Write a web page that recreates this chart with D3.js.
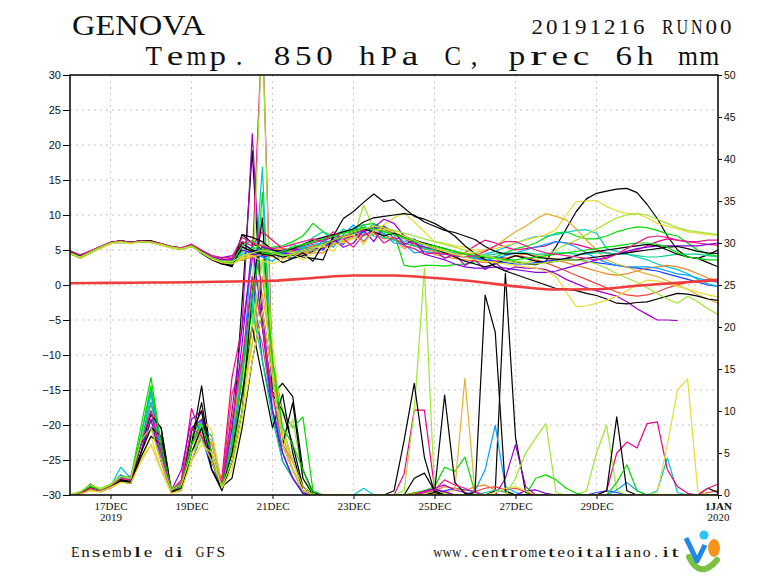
<!DOCTYPE html>
<html><head><meta charset="utf-8">
<script src="https://cdn.jsdelivr.net/npm/d3@7"></script>
<style>body{margin:0;background:#fff}svg{display:block}</style>
</head><body>
<svg id="c" width="768" height="576"></svg>
<script>
// ---------- DATA ----------
const stepHours = d3.range(0, 385, 6); // 16 Dec 2019 00Z .. 1 Jan 2020 00Z, 6-hourly
const dateTickHours = [24, 72, 120, 168, 216, 264, 312, 384];
const dateTickLabels = ["17DEC", "19DEC", "21DEC", "23DEC", "25DEC", "27DEC", "29DEC", "1JAN"];
const yearLabels = ["2019", "", "", "", "", "", "", "2020"];
const tempTicks = [-30, -25, -20, -15, -10, -5, 0, 5, 10, 15, 20, 25, 30];
const precTicks = [0, 5, 10, 15, 20, 25, 30, 35, 40, 45, 50];

const memberColors = ["#000000","#fa3c3c","#00dc00","#1e3cff","#00c8c8","#f00082","#e6dc32",
  "#f08228","#a000c8","#a0e632","#00a0ff","#e6af2d","#00d28c","#8200dc","#000000","#000000",
  "#000000","#00dc00","#e61e8c","#e6dc32","#a0e632"];

// T850 (C) per member
const tempMembers = [
[4.6,4.1,4.8,5.5,6.1,6.3,6.1,6.3,6.2,5.8,5.5,5.2,5.7,4.6,3.7,3.1,2.9, 7.2,6.0,5.0,4.4,4.0,3.8,4.2,4.8, 5.4,6.0,6.8,7.4,7.8,8.2,7.8,7.2,6.8,6.4,6.0, 5.6,5.2,4.8,4.4,4.1,3.9,4.0,3.8,3.3, 3.0,2.9,3.4,5.5,8.0,10.5,12.3,13.1,13.4,13.7,13.8,13.2,11.5,9.5,7.0,5.0,4.0,3.8,4.3,5.0],
[4.7,4.0,4.6,5.3,6.0,6.2,6.0,6.2,6.1,5.8,5.4,5.1,5.5,4.8,3.9,3.4,3.3, 4.0,4.5,5.0,5.2,4.6,4.8,5.2,5.6, 6.0,6.4,6.8,7.0,7.2,7.6,7.2,6.5,6.0,5.6,5.2, 5.0,4.8,4.6,4.4,4.0,3.6,3.4,3.8,4.2, 4.0,3.6,3.2,2.6,2.0,1.4,0.8,0.2,-0.4,-1.0,-1.4,-1.6,-1.4,-1.0,-0.4,0.0,0.4,0.6,0.8,0.8],
[4.6,4.0,4.7,5.4,6.0,6.2,6.0,6.3,6.2,5.7,5.4,5.2,5.6,4.7,3.8,3.5,3.6, 3.5,4.2,5.0,5.4,5.6,6.2,7.0,8.8, 7.6,7.0,7.6,8.0,8.6,8.8,8.0,7.4,2.8,2.6,2.8, 2.8,2.7,2.9,3.0,3.3,3.6,4.0,4.6,5.2, 5.5,6.0,6.8,7.4,7.6,7.0,6.6,6.6,7.0,7.6,8.0,8.3,8.2,7.8,7.3,7.0,6.0,5.0,4.4,4.1],
[4.8,4.1,4.7,5.4,6.0,6.1,6.0,6.2,6.2,5.8,5.4,5.3,5.6,4.6,3.8,3.2,3.0, 5.0,4.5,4.0,4.2,4.8,5.0,4.6,5.0, 5.0,6.6,5.8,7.6,6.2,7.8,8.4,6.6,6.8,5.6,5.4, 5.0,4.6,4.2,4.0,3.8,3.6,3.4,3.2,3.0, 3.0,3.2,3.4,3.6,3.8,3.6,3.4,3.2,3.0,2.8,2.6,2.4,2.2,2.0,1.6,1.2,0.8,0.4,0.0,-0.2],
[4.7,4.0,4.7,5.3,5.9,6.2,6.0,6.3,6.2,5.8,5.4,5.2,5.6,4.8,3.9,3.4,3.3, 6.0,5.0,4.6,4.4,4.6,5.0,5.4,5.8, 6.0,7.2,6.4,8.2,7.4,8.8,7.0,7.6,6.2,6.6,5.4, 5.2,4.8,4.6,4.4,4.2,4.4,4.8,5.4,6.0, 6.5,6.9,7.0,7.2,7.5,7.8,7.9,7.4,5.2,4.8,4.4,4.0,3.6,3.0,2.6,2.2,1.6,0.8,0.2,-0.2],
[4.9,4.2,4.8,5.4,6.0,6.3,6.0,6.2,6.1,5.8,5.4,5.3,5.7,4.8,4.0,3.6,3.8, 6.2,5.6,7.6,6.4,5.2,5.0,5.6,6.0, 6.4,6.8,7.0,7.4,7.8,8.4,8.0,7.2,6.6,5.8,5.2, 4.8,4.4,4.2,4.6,5.6,6.4,6.0,5.4,5.0, 5.2,5.4,5.6,6.2,6.0,5.8,5.4,5.0,4.6,4.4,4.6,5.0,5.6,6.2,6.6,6.4,6.2,6.0,5.8,5.7],
[4.5,3.8,4.6,5.3,5.9,6.1,5.9,6.2,6.1,5.7,5.3,5.1,5.5,4.6,3.8,3.4,3.5, 4.0,4.6,4.8,4.4,4.2,4.6,5.0,5.4, 5.8,6.2,6.0,6.6,7.0,7.2,8.6,9.6,10.3,9.0,7.6, 6.2,6.0,5.6,5.4,5.0,5.0,5.2,5.6,6.0, 6.4,6.8,7.2,7.9,10.0,11.9,12.0,12.1,11.2,10.6,10.2,10.2,9.6,8.8,8.4,8.0,7.6,7.4,7.2,7.1],
[4.6,4.0,4.6,5.4,6.0,6.2,6.0,6.3,6.3,5.9,5.5,5.3,5.6,4.7,3.7,3.2,3.0, 3.8,4.2,4.8,5.0,5.2,4.8,4.4,4.6, 4.6,5.8,6.4,7.8,6.2,7.4,6.6,6.8,5.2,5.8,4.8, 4.4,4.0,3.8,3.6,3.4,3.2,3.4,3.8,4.2, 4.4,4.2,4.0,3.6,3.2,2.8,2.4,2.0,1.6,1.4,1.6,2.0,2.4,2.6,2.8,2.6,2.2,1.6,1.0,0.6],
[4.8,4.1,4.7,5.4,6.0,6.3,6.1,6.3,6.2,5.8,5.4,5.2,5.6,4.9,4.2,3.9,4.2, 5.6,4.4,4.2,4.6,5.0,5.2,5.0,5.4, 5.8,6.2,6.6,7.0,7.6,8.2,9.4,8.8,7.0,6.0,5.4, 5.0,3.8,4.4,2.8,3.6,2.2,3.2,2.0,2.6, 2.4,2.4,2.2,1.6,0.8,0.2,-0.4,-0.8,-1.2,-1.6,-2.4,-3.4,-4.2,-5.0,-5.0,-5.1,null,null,null,null],
[4.6,4.0,4.7,5.3,5.9,6.2,6.0,6.2,6.2,5.8,5.4,5.2,5.6,4.7,3.8,3.3,3.4, 4.6,5.2,5.8,4.8,4.4,4.6,5.0,5.4, 5.8,6.0,6.4,6.8,11.4,8.0,7.8,7.2,6.6,6.2,5.8, 5.4,5.0,4.8,4.6,4.4,4.0,3.8,3.6,3.4, 3.2,3.6,4.2,5.0,5.8,6.4,7.2,8.0,8.8,9.6,10.0,10.2,10.0,9.4,8.8,8.2,7.8,7.6,7.4,7.2],
[4.7,4.1,4.8,5.4,6.0,6.2,6.0,6.3,6.2,5.8,5.5,5.2,5.6,4.6,3.7,3.2,3.1, 4.4,5.0,4.0,3.4,4.6,3.8,5.6,4.6, 6.6,5.4,7.2,8.6,7.0,8.0,7.4,6.0,5.8,4.6,4.8, 4.6,4.4,4.2,4.0,3.8,3.6,3.8,4.2,4.6, 5.0,5.4,5.8,6.2,6.0,5.4,4.6,3.8,3.2,2.8,2.6,2.6,2.6,2.4,2.0,1.6,1.4,1.0,0.6,0.4],
[4.6,3.9,4.6,5.3,5.9,6.2,6.0,6.2,6.1,5.7,5.3,5.1,5.5,4.7,3.8,3.3,3.2, 3.6,4.0,4.4,4.0,3.8,4.2,4.6,5.0, 5.4,5.8,6.2,6.8,7.2,7.4,7.0,6.6,6.0,5.6,5.2, 4.8,4.6,4.4,4.4,4.6,5.0,5.5,6.6,7.6, 8.4,9.4,10.2,9.8,9.3,8.0,6.4,5.0,3.6,3.0,2.6,2.0,1.6,1.2,0.6,0.0,-0.6,-1.4,-2.0,-2.6],
[4.7,4.0,4.7,5.4,6.0,6.2,6.0,6.3,6.2,5.8,5.4,5.2,5.6,4.7,3.9,3.4,3.2, 4.8,5.4,4.6,5.0,4.2,5.8,5.2,6.8, 7.6,6.4,8.0,7.2,8.6,7.0,6.8,6.4,6.0,5.6,5.2, 5.0,4.6,4.2,4.0,4.0,4.2,4.4,4.6,4.6, 4.6,4.4,4.4,4.6,4.6,4.4,4.4,4.6,4.6,4.4,4.4,4.2,4.0,4.0,4.2,4.4,4.4,4.4,4.2,4.0],
[4.8,4.2,4.8,5.4,6.0,6.2,6.0,6.2,6.1,5.8,5.4,5.2,5.7,4.8,4.0,3.6,3.6, 5.0,4.6,5.4,5.0,4.6,4.4,4.8,5.2, 5.2,6.6,5.4,6.0,7.8,6.2,8.4,7.6,5.8,6.4,4.4, 4.0,3.6,3.0,2.6,2.4,2.4,2.6,2.4,2.2, 2.0,1.8,1.8,2.0,2.4,2.8,3.2,3.6,4.0,4.4,4.8,5.2,5.4,5.6,5.6,5.6,5.6,5.6,5.8,6.0],
[4.6,4.0,4.6,5.3,6.0,6.2,6.0,6.3,6.2,5.8,5.4,5.2,5.8,4.5,3.6,3.0,2.8, 6.0,5.0,4.6,4.5,4.0,4.3,4.0,3.8, 3.6,7.0,9.5,10.5,11.8,13.0,11.9,12.2,11.0,9.8,9.4, 8.8,8.0,7.0,5.6,4.5,3.6,2.6,2.0,1.5, 1.0,0.5,0.0,-0.5,-0.6,-0.8,-1.2,-1.5,-2.0,-2.6,-2.7,-2.5,-2.4,-2.0,-1.6,-1.2,-1.3,-1.6,-2.0,-2.2],
[4.7,4.1,4.7,5.4,6.1,6.3,6.1,6.3,6.3,5.9,5.5,5.3,5.7,4.7,3.8,3.1,2.6, 7.2,6.8,6.2,5.0,4.8,5.2,5.8,6.4, 6.8,7.2,7.6,8.0,9.0,9.6,9.8,10.0,10.2,10.0,9.0, 8.4,7.8,7.5,7.0,6.5,5.5,4.8,4.4,4.5, 4.5,4.0,3.8,3.7,3.6,3.6,3.8,4.0,4.2,4.4,4.6,4.8,5.0,5.2,5.4,5.5,5.2,4.8,4.6,4.5],
[4.5,3.9,4.6,5.4,6.0,6.3,6.1,6.3,6.2,5.8,5.4,5.1,5.6,4.6,3.6,3.0,2.7, 5.4,4.8,4.4,4.2,3.2,3.8,4.6,3.4, 5.8,6.4,7.0,7.6,8.0,7.6,7.0,7.4,7.0,6.4,5.8, 5.2,4.6,4.0,3.4,3.0,2.6,3.0,3.6,4.2, 3.8,3.4,3.2,3.4,3.8,4.2,4.6,4.8,5.0,5.2,5.4,5.6,5.8,5.6,5.0,4.4,4.0,3.8,3.2,2.6],
[4.6,4.0,4.6,5.3,6.0,6.2,6.0,6.2,6.2,5.8,5.4,5.2,5.5,4.6,3.8,3.3,3.2, 5.6,6.4,4.6,4.4,4.8,5.4,5.8,6.2, 6.6,7.0,7.4,7.8,8.2,8.0,7.6,7.2,6.8,6.2,5.8, 5.6,5.2,4.8,4.4,4.2,4.0,3.8,3.6,3.6, 3.8,4.0,4.2,4.4,4.6,4.8,5.0,5.2,5.4,5.6,5.8,6.0,6.0,5.8,5.4,4.6,4.0,3.8,3.6,3.6],
[4.9,4.3,4.9,5.5,6.1,6.3,6.1,6.3,6.2,5.9,5.5,5.3,5.8,5.0,4.2,3.8,4.0, 6.8,6.0,5.6,5.2,5.4,5.8,6.2,6.6, 6.2,7.6,6.6,5.4,7.2,7.6,6.0,6.8,5.6,5.2,4.4, 4.6,4.4,4.2,4.0,4.2,4.8,5.6,6.2,6.2, 5.6,5.0,4.6,4.4,4.2,4.0,3.8,3.6,3.8,4.4,5.2,6.0,6.8,7.0,6.8,6.4,6.2,6.2,6.4,6.4],
[4.5,3.9,4.6,5.2,5.9,6.1,5.9,6.2,6.1,5.7,5.3,5.1,5.5,4.6,3.7,3.2,3.0, 3.8,4.2,3.4,3.0,3.6,4.4,3.6,4.6, 5.6,4.8,6.8,7.2,5.8,7.8,8.0,7.6,7.0,6.4,5.8, 5.2,4.8,4.4,4.0,3.6,3.4,3.2,3.0,2.8, 2.6,2.4,2.0,1.2,-1.0,-3.1,-3.0,-2.6,-2.2,-1.6,-0.8,0.0,0.7,0.6,0.2,-0.2,-0.6,-1.0,-1.4,-1.7],
[4.6,4.0,4.7,5.4,6.0,6.2,6.0,6.2,6.1,5.8,5.4,5.2,5.6,4.7,3.9,3.4,3.3, 4.2,4.6,5.0,4.6,4.2,4.4,4.8,5.2, 5.8,6.4,7.0,7.6,8.0,8.4,8.2,7.8,7.4,7.0,6.6, 6.2,5.8,5.4,5.0,4.6,4.2,3.8,3.4,3.2, 3.0,3.0,3.2,3.4,3.6,3.6,3.4,3.0,2.4,1.6,1.0,0.4,-0.4,-1.2,-2.0,-2.6,-1.6,-2.4,-3.4,-4.2]
];

// 6h precipitation (mm) per member
const precMembers = [
[0,0.2,1.3,0.5,1.0,1.8,1.5,5,9,8,0.5,1,6,13,4,1, 6,23,41,20,12,13.3,11.7,3, 0.3,0,0,0,0,0,0,0, 0,0,0.2,0.3,0.2,0,0,0,0,0,0.5, 26.4,6.9,0.3,0,0,0,0,0,0,0,0, 0,0,0,0,0,0,0,0,0,0,0],
[0,0.2,0.8,0.6,1.2,2.0,1.6,6,8,5,0.4,0.8,5,8,3,1.5, 12,16,22,18,10,6,4,1, 0,0,0,0,0,0,0,0, 0,0,0,0.4,0.6,0.3,0,0,0.4,0.8,1.0, 0.6,0.8,0.4,0,0,0,0,0,0,0,0, 0,0,0,0,0,0,0,0,0,0.3,0.5],
[0,0.3,1.0,0.6,1.0,2.2,2.0,8.1,14,6,0.8,1.2,7,9,5,0.8, 4,12,20,36,16,10,8,9.3, 0.5,0,0,0,0,0,0,0, 0,0,0.3,0.5,1.0,3.3,2.8,4.5,0.3,0,0, 0,0,0,0,0,0,0,0,0,0,0, 0,0,0,0,0,0,0,0,0,0,0],
[0,0.1,0.6,0.4,0.8,1.6,1.4,5,10,4,0.3,1,4,7,3,1, 5,14,26,16,10,6,3,0.5, 0,0,0,0,0,0,0,0, 0,0,0,0,0.2,0.5,0.8,0.6,0.4,0,0, 0,0,0,0,0,0,0,0,0,0.3,0.5, 0.3,0,0,0,0,0,0,0,0,0,0],
[0,0.2,0.8,0.6,1.0,3.3,2.0,6,12,5,0.6,1.5,6,8,7,1.2, 7,16,22,39,12,5,2,0.2, 0,0,0,0,0,0.8,0,0, 0,0,0,0.3,0.5,0.3,0,0,0,0,0, 0,0,0,0,0,0,0,0,0,0,0, 0,0,0,0,0.5,4.4,0.3,0,0,0,0],
[0,0.3,0.8,0.5,1.2,2.0,2.2,6,11,6,0.5,1.8,10.3,7,4,2, 14,20,28,56,14,8,4,1, 0,0,0,0,0,0,0,0, 0,2.5,10.1,10.1,0.8,0.3,0,0,0,0,0, 0,0,0,0,0,0,0,0,0,0,0.5, 5.0,6.3,5.6,8.5,8.7,3.0,1.0,0.2,0,0,0],
[0,0.1,0.5,0.4,0.8,1.5,1.6,4,7,3,0.2,0.5,5,9,7.7,1, 3,10,18,28,18,8,4,0.5, 0,0,0,0,0,0,0,0, 0,0,0,0.2,0.3,0.2,0,0,0,0,0, 0,0,0,0,0,0,0,0,0,0,0, 0,0,0,0,0.3,6.0,12.5,13.8,0.5,0,0],
[0,0.2,0.7,0.6,1.0,1.8,1.5,5,8,4,0.4,1,6,8,6,1.5, 8,15,20,26,16,6,3,0.5, 0,0,0,0,0,0,0,0, 0,0,0.2,0.4,0.5,1.0,0.8,0.5,1.0,1.2,0.6, 0.3,0,0,0,0,0,0,0,0,0,0, 0,0,0,0,0,0,0,0,0,0,0],
[0,0.2,0.9,0.5,1.1,2.2,1.8,6,10,5,0.5,3,9,10,5,1, 10,20,43,22,10,4,2,0.3, 0,0,0,0,0,0,0,0, 0,0,0,0.3,0.8,1.2,0.6,0.3,0,0,0, 2.0,6.0,1.0,0,0,0,0,0,0,0,0, 0,0,0,0,0,0,0,0,0,0,0],
[0,0.4,1.2,0.8,1.3,2.4,2.0,7,9,4,0.8,1.4,5,7,4,0.8, 4,12,24,56,12,6,9,2, 0,0,0,0,0,0,0,0, 0,0.5,10,27,0.3,0,0,0,0,0,0, 0,0,0,0,0,0,0,0,0.5,5.0,8.3, 0.5,0,0,0,0,0,0,0,0,0,0],
[0,0.2,0.8,0.5,1.0,2.4,1.8,7,12.5,6,0.6,1.2,6,9,5,1, 6,14,30,20,10,5,2,0.3, 0,0,0,0,0,0,0,0, 0,0,0,0,0,0,0,0,0.5,3.0,8.3, 1.0,0.3,0,0,0,0,0,0,0,0,0, 0.6,1.5,0.5,0,0,0,0,0,0,0,0],
[0,0.2,0.6,0.4,0.9,1.6,1.4,4,6,3,0.3,0.8,4,7.5,6.5,1.2, 5,12,18,24,16,7,3,0.5, 0,0,0,0,0,0,0,0, 0,0,0,0,0.2,0.3,0.6,13.9,0.3,0,0, 0,0,0,0,0,0,0,0,0,0,0, 0,0,0,0,0,0,0,0,0,0,0],
[0,0.2,0.8,0.5,1.0,2.2,1.8,6,11,5,0.4,1,5,8,4,0.6, 6,15,22,16,9,4,2,0.2, 0,0,0,0,0,0,0,0, 0,0,0,0,0,0,0,0,0,0.3,0.6, 0.4,0,0,0,0,0,0,0,0,0,0, 0,0,0,0,0,0,0,0,0,0,0],
[0,0.2,0.9,0.6,1.1,1.8,1.6,5,9,4,0.5,1.2,8,9,4,0.8, 8,18,30,20,10,5,2,0.2, 0,0,0,0,0,0,0,0, 0,0,0,0.5,0.7,0.4,0,0,0,0,0, 0,0,0.5,0.6,0.2,0,0,0,0,0,0, 0,0,0,0,0,0,0,0,0,0,0],
[0,0.2,1.0,0.5,1.1,1.7,1.5,5,8,7,0.4,0.8,7.6,10,3,0.5, 4,10,24,33,12,10,6,1, 0,0,0,0,0,0,0,0, 0,0,0,0,0.3,11.9,1.5,0.2,0,0,0, 0,0,0,0,0,0,0,0,0,0,0, 0,0,0,0,0,0,0,0,0,0.8,0.3],
[0,0.2,1.1,0.6,1.2,1.8,1.6,6,9.6,8,0.6,1.2,6,11,4,1, 2,8,16,22,14,6,11,2, 0,0,0,0,0,0,0,0, 0,0,2.0,2.6,0.5,0,0,0,0.3,23.8,19.4, 0.5,0,0,0,0,0,0,0,0,0,0, 0,0,0,0,0,0,0,0,0,0,0],
[0,0.1,0.9,0.4,1.0,1.6,1.4,4.5,7,6,0.3,0.6,5,8,3,0.8, 5,12,20,14,8,12,5,0.5, 0,0,0,0,0,0,0,0, 0.5,6.5,13.3,4.5,0.3,0,0,0,0,0,0, 0,0,0,0,0,0,0,0,0,0,0.5, 9.3,0.5,0,0,0,0,0,0,0,0,0],
[0,0.3,1.0,0.6,1.2,2.2,2.0,7,13,6,0.7,1.4,6,8.5,5,1, 6,14,24,30,16,8,6,3, 0,0,0,0,0,0,0,0, 0,0,0,0,0,0,0,0,0,0,0, 0,0,0,2.0,2.4,1.8,0.8,0.2,0,0,0, 1.5,3.6,0.5,0,0,0,0,0,0,0,0],
[0,0.2,0.8,0.5,1.0,2.0,1.8,6,10,5,0.5,1.5,8,7,4,1.5, 9,16,26,20,12,6,3,0.5, 0,0,0,0,0,0,0,0, 0,0,0,0.4,0.6,1.8,1.2,0.8,0.3,0,0, 0,0,0,0,0,0,0,0,0,0,0, 0,0,0,0,0,0,0,0,0,0.8,1.3],
[0,0.1,0.5,0.4,0.9,1.5,1.4,4,6,3,0.2,0.6,4,6,5,0.8, 3,9,16,22,14,6,3,0.5, 0,0,0,0,0,0,0,0, 0,0,0,0,0,0,0,0,0,0,0.3, 0.8,1.0,0.5,0,0,0,0,0,0,0,0, 0,0,0,0,0,0,0,0,0,0,0],
[0,0.4,1.2,0.7,1.2,2.2,2.0,6.5,8,4,0.6,1.2,5,6.5,4,1, 4,10,20,28,14,7,4,1, 0,0,0,0,0,0,0,0, 0,0,0,0,0,0,0,0,0,0,0, 0,2.0,5.0,6.8,8.5,0.3,0,0,0,0,0, 0,0,0,0,0,0,0,0,0,0,0]
];

// thick red reference line (daily, C)
const refHours = [0,24,48,72,96,120,144,168,192,216,240,264,288,312,336,360,384];
const refTemp = [0.25,0.3,0.35,0.4,0.5,0.6,1.0,1.35,1.35,1.0,0.5,-0.2,-0.65,-0.6,-0.1,0.3,0.7];

// ---------- DRAW ----------
const L = 70, R = 718, T = 75, B = 495;
const svg = d3.select("#c");
svg.append("rect").attr("width", 768).attr("height", 576).attr("fill", "#fff");

const x = d3.scaleLinear().domain([0, 384]).range([L, R]);
const yT = d3.scaleLinear().domain([-30, 30]).range([B, T]);
const yP = d3.scaleLinear().domain([0, 50]).range([B, T]);

svg.append("defs").append("clipPath").attr("id", "plotclip")
  .append("rect").attr("x", L).attr("y", T).attr("width", R - L).attr("height", B - T);

// grid
const grid = svg.append("g");
grid.selectAll("line.h").data(tempTicks.filter(v => v > -30 && v < 30)).join("line")
  .attr("x1", L).attr("x2", R).attr("y1", d => yT(d)).attr("y2", d => yT(d))
  .attr("stroke", "#b8b8b8").attr("stroke-width", 0.8).attr("stroke-dasharray", "2,4");
grid.selectAll("line.v").data(dateTickHours.filter(h => h < 384)).join("line")
  .attr("y1", T).attr("y2", B).attr("x1", d => x(d)).attr("x2", d => x(d))
  .attr("stroke", "#b8b8b8").attr("stroke-width", 0.8).attr("stroke-dasharray", "2,4");

const plot = svg.append("g").attr("clip-path", "url(#plotclip)");

const precLine = d3.line().defined(d => d != null).x((d, i) => x(stepHours[i])).y(d => yP(d));
const tempLine = d3.line().defined(d => d != null).x((d, i) => x(stepHours[i])).y(d => yT(d));

plot.append("g").selectAll("path").data(precMembers).join("path")
  .attr("d", d => precLine(d)).attr("fill", "none")
  .attr("stroke", (d, i) => memberColors[i]).attr("stroke-width", 1.2).attr("stroke-linejoin", "round");

plot.append("g").selectAll("path").data(tempMembers).join("path")
  .attr("d", d => tempLine(d)).attr("fill", "none")
  .attr("stroke", (d, i) => memberColors[i]).attr("stroke-width", 1.2).attr("stroke-linejoin", "round");

plot.append("path")
  .attr("d", d3.line().x((d, i) => x(refHours[i])).y(d => yT(d)).curve(d3.curveMonotoneX)(refTemp))
  .attr("fill", "none").attr("stroke", "#f03c3c").attr("stroke-width", 2.6);

// axes
const fmt = d3.format("d");
const axL = svg.append("g").attr("transform", `translate(${L},0)`)
  .call(d3.axisLeft(yT).tickValues(tempTicks).tickFormat(fmt).tickSize(7).tickPadding(2));
const axR = svg.append("g").attr("transform", `translate(${R},0)`)
  .call(d3.axisRight(yP).tickValues(precTicks).tickFormat(fmt).tickSize(4).tickPadding(2));
const axB = svg.append("g").attr("transform", `translate(0,${B})`)
  .call(d3.axisBottom(x).tickValues(dateTickHours).tickFormat((d, i) => dateTickLabels[i]).tickSize(4).tickPadding(3));
[axL, axR, axB].forEach(a => { a.select(".domain").remove(); });
axL.selectAll("text").attr("font-family", "Liberation Sans, Arial, sans-serif").attr("font-size", 11).attr("fill", "#111");
axR.selectAll("text").attr("font-family", "Liberation Sans, Arial, sans-serif").attr("font-size", 10.5).attr("fill", "#111");
axR.selectAll(".tick").filter(d => d === 0).select("text").attr("y", -2);
axB.selectAll("text").attr("font-family", "Liberation Serif, serif").attr("font-size", 11).attr("fill", "#111")
  .attr("font-weight", (d, i) => i === dateTickLabels.length - 1 ? "bold" : "normal");
axB.selectAll(".tick").append("text")
  .attr("y", 26).attr("fill", "#111").attr("text-anchor", "middle")
  .attr("font-family", "Liberation Serif, serif").attr("font-size", 11)
  .text((d, i) => yearLabels[i]);

// frame
svg.append("rect").attr("x", L).attr("y", T).attr("width", R - L).attr("height", B - T)
  .attr("fill", "none").attr("stroke", "#000").attr("stroke-width", 1.5);

// titles: monospaced look, one cell per character, each glyph fitted to a uniform width
function monoText(str, x0, pitch, y, size, family, glyphW, wideW) {
  const t = svg.append("text").attr("y", y).attr("font-size", size)
    .attr("font-family", family).attr("fill", "#111").style("white-space", "pre");
  Array.from(str).forEach((c, i) => {
    const ts = t.append("tspan").text(c);
    const cx = x0 + (i + 0.5) * pitch;
    if (c === " ") { ts.attr("x", cx - size * 0.12); return; }
    if (".,".includes(c)) { ts.attr("x", cx - size * 0.13); return; }
    const w = /[mwMW]/.test(c) ? wideW : glyphW;
    ts.attr("x", (cx - w / 2).toFixed(2)).attr("textLength", w).attr("lengthAdjust", "spacingAndGlyphs");
  });
}
svg.append("text").attr("x", 72).attr("y", 34.5).attr("font-family", "Liberation Serif, serif")
  .attr("font-size", 30).attr("textLength", 133).attr("lengthAdjust", "spacingAndGlyphs")
  .attr("fill", "#111").text("GENOVA");
monoText("20191216 RUN00", 530, 14.5, 34, 22, "Liberation Serif, serif", 11.5, 13.5);
monoText("Temp. 850 hPa C, prec 6h mm", 143, 21.37, 64.5, 27, "Liberation Serif, serif", 16.5, 20);
monoText("Ensemble di GFS", 70, 10.4, 557, 15, "Liberation Serif, serif", 8.6, 9.6);
monoText("www.centrometeoitaliano.it", 433, 9.5, 557, 14.5, "Liberation Serif, serif", 7.8, 9.0);

// logo
const logo = svg.append("g");
logo.append("path").attr("d", "M689,557 Q700,580 717,560").attr("fill", "none")
  .attr("stroke", "#7ac143").attr("stroke-width", 6).attr("stroke-linecap", "round");
logo.append("ellipse").attr("cx", 714).attr("cy", 548).attr("rx", 6).attr("ry", 9).attr("fill", "#f7941d");
logo.append("path").attr("d", "M686,538 L697,561 L705,545").attr("fill", "none")
  .attr("stroke", "#1e88e5").attr("stroke-width", 5).attr("stroke-linejoin", "round");
logo.append("circle").attr("cx", 704).attr("cy", 535).attr("r", 4.5).attr("fill", "#29c5f6");
</script>
</body></html>
